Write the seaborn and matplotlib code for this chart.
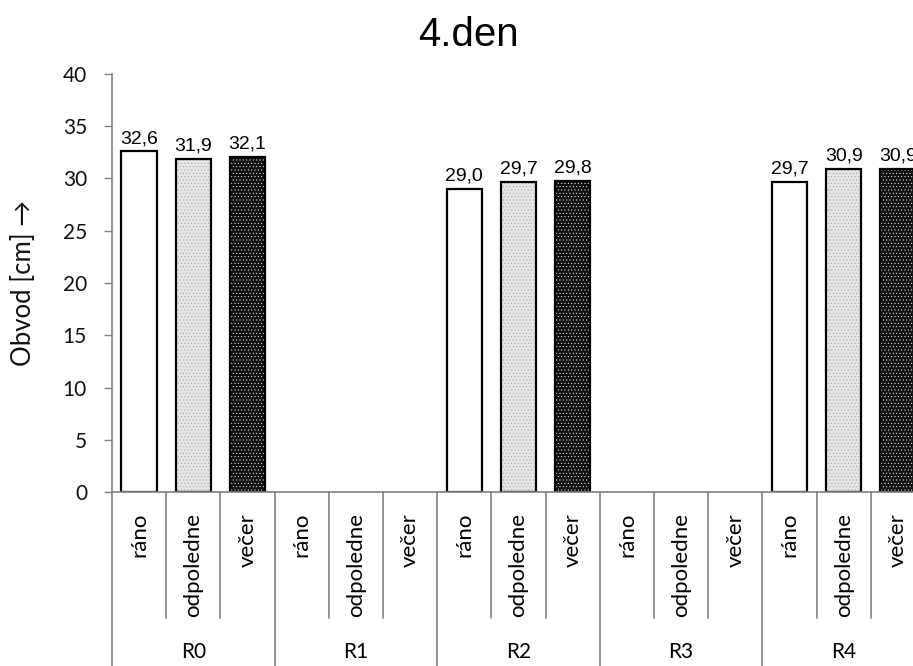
import matplotlib
matplotlib.use("Agg")
import matplotlib.pyplot as plt
from matplotlib.patches import Rectangle
import matplotlib.transforms as mtransforms
import seaborn as sns
import pandas as pd

# --- data -------------------------------------------------------------
groups = ["R0", "R1", "R2", "R3", "R4"]
times = ["ráno", "odpoledne", "večer"]
rano = [32.6, None, 29.0, None, 29.7]
odpoledne = [31.9, None, 29.7, None, 30.9]
vecer = [32.1, None, 29.8, None, 30.9]
y_ticks = [0, 5, 10, 15, 20, 25, 30, 35, 40]
title = "4.den"
y_label = "Obvod [cm] →"

series = {"ráno": rano, "odpoledne": odpoledne, "večer": vecer}
slots = [f"{g}|{t}" for g in groups for t in times]
rows = []
for gi, g in enumerate(groups):
    for t in times:
        v = series[t][gi]
        if v is not None:
            rows.append({"slot": f"{g}|{t}", "time": t, "value": v})
df = pd.DataFrame(rows)

# --- styling ----------------------------------------------------------
sns.set_theme(style="white")
plt.rcParams["font.family"] = ["Lato", "DejaVu Sans"]
plt.rcParams["hatch.linewidth"] = 0.3

fill = {"ráno": ("white", None, "white"),
        "odpoledne": ("#e6e6e6", ".....", "#9a9a9a"),
        "večer": ("#111111", ".....", "#ffffff")}

W, H = 913, 666
fig = plt.figure(figsize=(W / 100, H / 100), dpi=100)
left_px, right_px, top_px, bot_px = 112, 925, 74, 492
ax = fig.add_axes([left_px / W, 1 - bot_px / H,
                   (right_px - left_px) / W, (bot_px - top_px) / H])

sns.barplot(data=df, x="slot", y="value", hue="time", order=slots,
            hue_order=times, palette={t: fill[t][0] for t in times},
            dodge=False, width=0.65, legend=False, ax=ax, errorbar=None)

# patterned fills with a black outline drawn on top
for cont, t in zip(ax.containers, times):
    face, hatch, hcol = fill[t]
    for bar in cont:
        bar.set_facecolor(face)
        bar.set_linewidth(0)
        if hatch:
            bar.set_hatch(hatch)
            bar.set_edgecolor(hcol)
        else:
            bar.set_edgecolor(face)
        ax.add_patch(Rectangle(bar.get_xy(), bar.get_width(), bar.get_height(),
                               facecolor="none", edgecolor="black",
                               linewidth=1.6, zorder=bar.get_zorder() + 0.1))
    ax.bar_label(cont, labels=[f"{b.get_height():.1f}".replace(".", ",")
                               for b in cont],
                 padding=3, fontsize=14, family="Liberation Sans", color="black")

ax.set_xlim(-0.5, len(slots) - 0.5)
ax.set_ylim(0, 40)
ax.set_yticks(y_ticks)
ax.tick_params(axis="y", direction="out", length=6, width=1, color="#808080",
               labelsize=15, labelcolor="#111111", pad=12, left=True)
ax.set_xticks([])
ax.set_xlabel("")
for s in ["top", "right"]:
    ax.spines[s].set_visible(False)
for s in ["left", "bottom"]:
    ax.spines[s].set_color("#808080")
    ax.spines[s].set_linewidth(1.2)

ax.set_ylabel(y_label, fontsize=18.5, color="#111111", va="center")
ax.yaxis.set_label_coords(-(left_px - 24) / (right_px - left_px), 0.5)

# two-level category axis
trans = mtransforms.blended_transform_factory(ax.transData, ax.transAxes)
ph = bot_px - top_px
cat_top = -(513 - bot_px) / ph
inner_bot = -(618 - bot_px) / ph
outer_bot = -(H - bot_px) / ph
grp_y = -(652 - bot_px) / ph
for i, s in enumerate(slots):
    g, t = s.split("|")
    ax.text(i, cat_top, t, rotation=90, ha="center", va="top",
            fontsize=16, color="black", transform=trans)
for gi, g in enumerate(groups):
    ax.text(gi * 3 + 1, grp_y, g, ha="center", va="center",
            fontsize=15, color="black", transform=trans)
    for k in (1, 2):
        x = gi * 3 + k - 0.5
        ax.plot([x, x], [0, inner_bot], color="#808080", lw=1.2,
                transform=trans, clip_on=False)
for gi in range(len(groups) + 1):
    x = gi * 3 - 0.5
    ax.plot([x, x], [0, outer_bot], color="#808080", lw=1.2,
            transform=trans, clip_on=False)

fig.text(468 / W, 1 - 35 / H, title, ha="center", va="center",
         fontsize=29, family="Liberation Sans", color="black")

fig.savefig("out.png", dpi=100)
